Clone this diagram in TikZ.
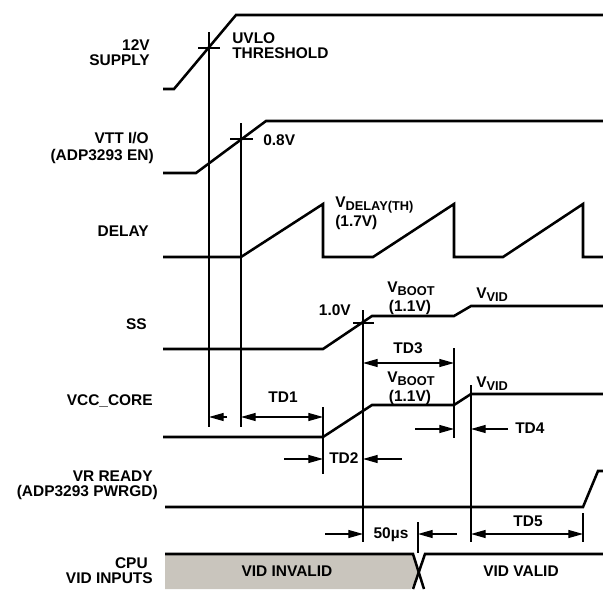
\documentclass[tikz,border=0pt]{standalone}
\usepackage{fontspec}
\setmainfont{Liberation Sans}
\usetikzlibrary{arrows.meta}
\definecolor{vidgray}{RGB}{201,197,189}
\newcommand{\sbs}[1]{\raisebox{-0.2em}{\fontsize{9.6pt}{10pt}\selectfont #1}}
\begin{document}
\begin{tikzpicture}[x=0.75pt,y=-0.75pt,
  sig/.style={line width=1.9pt, line join=miter},
  guide/.style={line width=0.9pt},
  dim/.style={line width=0.9pt, -{Triangle[length=11pt,width=6pt]}},
  ddim/.style={line width=0.9pt, {Triangle[length=11pt,width=6pt]}-{Triangle[length=11pt,width=6pt]}},
  lbl/.style={inner sep=0pt, font=\fontsize{11.6pt}{12pt}\selectfont\bfseries},
]
\useasboundingbox (0,0) rectangle (603,589);

% ---------- signals ----------
\draw[sig] (163,89) -- (174,89) -- (236,15) -- (603,15);
\draw[sig] (163,173) -- (196,173) -- (266,121) -- (603,121);
\draw[sig] (163,257) -- (241,257) -- (323,204) -- (323,257) -- (373,257) -- (454,204) -- (454,257)
  -- (503,257) -- (583,204) -- (583,257) -- (603,257);
\draw[sig] (163,349) -- (323,349) -- (372,316) -- (454,316) -- (471,306) -- (603,306);
\draw[sig] (163,437) -- (323,437) -- (372,405) -- (454,405) -- (471,394) -- (603,394);
\draw[sig] (165,507) -- (583,507) -- (598,471) -- (603,471);

% CPU VID inputs
\fill[vidgray] (165,554) -- (413,554) -- (418.5,571.5) -- (411,589) -- (165,589) -- cycle;
\draw[sig] (165,554) -- (413,554) -- (424,589);
\draw[sig] (603,554) -- (425,554) -- (413,589);

% ---------- guide coordinates ----------
\coordinate (uvT) at (209,32);   \coordinate (uvB) at (209,427);
\coordinate (enT) at (241,123);  \coordinate (enB) at (241,427);
\coordinate (c1T) at (323,407);  \coordinate (c1B) at (323,474);
\coordinate (ssT) at (363,310);  \coordinate (ssB) at (363,542);
\coordinate (t3T) at (454,348);  \coordinate (t3B) at (454,438);
\coordinate (vdT) at (471,385);  \coordinate (vdB) at (471,542);
\coordinate (usT) at (418,522);  \coordinate (usB) at (418,553);
\coordinate (t5T) at (583,513);  \coordinate (t5B) at (583,542);

\draw[guide] (uvT) -- (uvB);
\draw[guide] (enT) -- (enB);
\draw[guide] (c1T) -- (c1B);
\draw[guide] (ssT) -- (ssB);
\draw[guide] (t3T) -- (t3B);
\draw[guide] (vdT) -- (vdB);
\draw[guide] (usT) -- (usB);
\draw[guide] (t5T) -- (t5B);

% threshold ticks
\coordinate (k1a) at (198,48);  \coordinate (k1b) at (220,48);
\coordinate (k2a) at (230,139); \coordinate (k2b) at (253,139);
\coordinate (k3a) at (353,323); \coordinate (k3b) at (374,323);
\draw[guide] (k1a) -- (k1b);
\draw[guide] (k2a) -- (k2b);
\draw[guide] (k3a) -- (k3b);

% ---------- dimension arrows ----------
\coordinate (a0s) at (227,417); \coordinate (a0e) at (209,417);
\draw[dim] (a0s) -- (a0e);
\coordinate (td1a) at (241,417); \coordinate (td1b) at (323,417);
\draw[ddim] (td1a) -- (td1b);
\coordinate (td2ls) at (284,459); \coordinate (td2le) at (323,459);
\coordinate (td2rs) at (402,459); \coordinate (td2re) at (363,459);
\draw[dim] (td2ls) -- (td2le);
\draw[dim] (td2rs) -- (td2re);
\coordinate (td3a) at (363,363); \coordinate (td3b) at (454,363);
\draw[ddim] (td3a) -- (td3b);
\coordinate (td4ls) at (415,429); \coordinate (td4le) at (454,429);
\coordinate (td4rs) at (508,429); \coordinate (td4re) at (471,429);
\draw[dim] (td4ls) -- (td4le);
\draw[dim] (td4rs) -- (td4re);
\coordinate (usls) at (325,534); \coordinate (usle) at (363,534);
\coordinate (usrs) at (457,534); \coordinate (usre) at (418,534);
\draw[dim] (usls) -- (usle);
\draw[dim] (usrs) -- (usre);
\coordinate (td5a) at (471,534); \coordinate (td5b) at (583,534);
\draw[ddim] (td5a) -- (td5b);

% ---------- labels ----------
\node[lbl, anchor=base east] (l12a) at (150,50) {12V};
\node[lbl, anchor=base east] (l12b) at (150,65) {SUPPLY};
\node[lbl, anchor=base west] (luv1) at (232,43) {UVLO};
\node[lbl, anchor=base west] (luv2) at (232,58.5) {THRESHOLD};
\node[lbl, anchor=base east] (lvt1) at (149,143.5) {VTT I/O};
\node[lbl, anchor=base east] (lvt2) at (154,160) {(ADP3293 EN)};
\node[lbl, anchor=base west] (l08) at (263,145) {0.8V};
\node[lbl, anchor=base east] (ldl) at (149,236.5) {DELAY};
\node[lbl, anchor=base west] (lvd1) at (335,207) {V\sbs{DELAY(TH)}};
\node[lbl, anchor=base west] (lvd2) at (335,226) {(1.7V)};
\node[lbl, anchor=base east] (l10) at (351,315) {1.0V};
\node[lbl, anchor=base] (lvb1) at (411,292.5) {V\sbs{BOOT}};
\node[lbl, anchor=base] (lvb2) at (410,311) {(1.1V)};
\node[lbl, anchor=base west] (lvv1) at (476,298) {V\sbs{VID}};
\node[lbl, anchor=base east] (lss) at (147,329) {SS};
\node[lbl, anchor=base] (ltd3) at (408,353.5) {TD3};
\node[lbl, anchor=base] (lvb3) at (411,382.5) {V\sbs{BOOT}};
\node[lbl, anchor=base] (lvb4) at (410,401) {(1.1V)};
\node[lbl, anchor=base west] (lvv2) at (476,387) {V\sbs{VID}};
\node[lbl, anchor=base east] (lvcc) at (153,405) {VCC\_CORE};
\node[lbl, anchor=base] (ltd1) at (283,402.5) {TD1};
\node[lbl, anchor=base west] (ltd2) at (329,463) {TD2};
\node[lbl, anchor=base west] (ltd4) at (515,433) {TD4};
\node[lbl, anchor=base east] (lvr1) at (153,481.5) {VR READY};
\node[lbl, anchor=base east] (lvr2) at (158,496.5) {(ADP3293 PWRGD)};
\node[lbl, anchor=base] (l50) at (391,538) {50µs};
\node[lbl, anchor=base] (ltd5) at (528,526.5) {TD5};
\node[lbl, anchor=base east] (lcpu1) at (148,568) {CPU};
\node[lbl, anchor=base east] (lcpu2) at (153,583) {VID INPUTS};
\node[lbl, anchor=base] (linv) at (287,576.5) {VID INVALID};
\node[lbl, anchor=base] (lval) at (521,576.5) {VID VALID};
\end{tikzpicture}
\end{document}
